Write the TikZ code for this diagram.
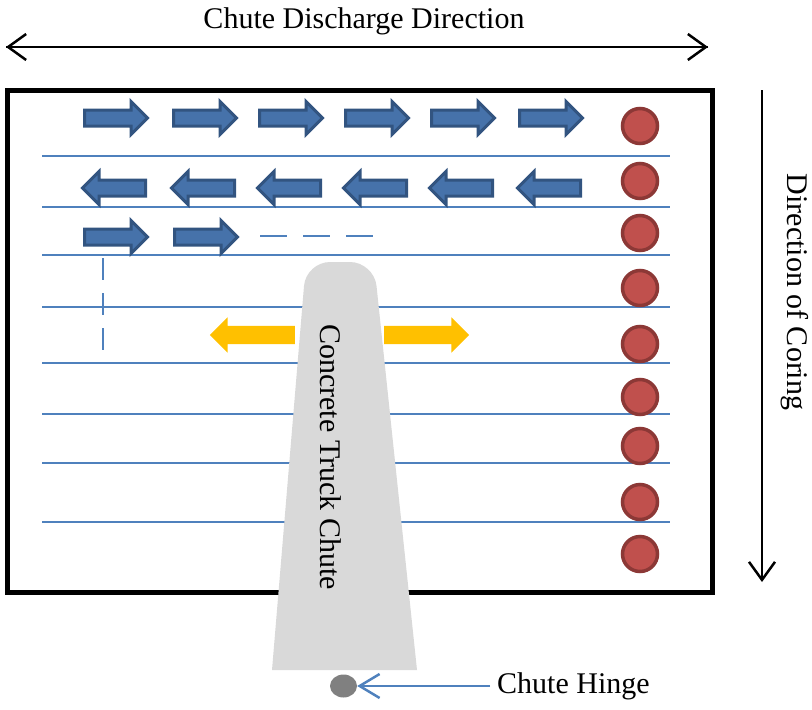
\documentclass[tikz,border=0pt]{standalone}
\usepackage{fontspec}
\setmainfont{Liberation Serif}
\usetikzlibrary{arrows.meta, shapes.arrows, shapes.geometric}
\definecolor{rowblue}{RGB}{79,129,189}
\definecolor{rowfill}{RGB}{70,114,170}
\definecolor{rowedge}{RGB}{50,84,128}
\definecolor{corered}{RGB}{192,80,77}
\definecolor{coreedge}{RGB}{140,56,54}
\definecolor{spread}{RGB}{255,192,0}
\definecolor{chutegray}{RGB}{217,217,217}
\definecolor{hingegray}{RGB}{128,128,128}

\begin{document}
\begin{tikzpicture}[x=1pt, y=-1pt,
  every node/.style={font=\fontsize{30}{36}\selectfont},
  lane/.style={rowblue, line width=2.5pt},
  flow/.style={single arrow, draw=rowedge, fill=rowfill, line width=3pt,
    minimum height=63pt, inner xsep=0pt, inner ysep=6.5pt, single arrow head extend=8.5pt},
  push/.style={single arrow, fill=spread, minimum height=85pt, inner xsep=0pt,
    inner ysep=9pt, single arrow head extend=8.5pt},
  coreball/.style={circle, draw=coreedge, fill=corered, line width=3.5pt,
    minimum size=35pt, inner sep=0pt},
  span/.style={line width=2.5pt},
  barb/.style={-{Straight Barb[length=18pt, width=26pt]}},
  pointer/.style={draw=rowblue, line width=2.5pt, -{Straight Barb[length=20pt, width=24pt]}}]
\useasboundingbox (0,0) rectangle (812,710);

\foreach \y in {156,207,255,307,363,414,463,522}
  \draw[lane] (42,\y) -- (670,\y);
\draw[lane, line width=2pt, dash pattern=on 22pt off 13pt] (103,258) -- (103,353);
\draw[lane, line width=2pt, dash pattern=on 27pt off 16pt] (260,236) -- (374,236);

\foreach \x [count=\i] in {115,204,290,376,462,550} {
  \node[flow] (east\i) at (\x-3,118) {};
  \node[flow, shape border rotate=180] (west\i) at (\x+3,188) {};
}
\node[flow] (back1) at (112,237) {};
\node[flow] (back2) at (202,237) {};

\node[push, shape border rotate=180] (pushl) at (257,335) {};
\node[push] (pushr) at (422,335) {};

\foreach \y [count=\i] in {126,181,233,288,344,397,446,502,554}
  \node[coreball] (core\i) at (640,\y) {};

\draw[line width=5pt] (7,90) rectangle (712,592);

\fill[chutegray] (272,670) [rounded corners=24pt] -- (306,262) -- (374,262)
  [sharp corners] -- (417,670) -- cycle;
\node[rotate=-90] (chutetext) at (331,457) {Concrete Truck Chute};

\node[ellipse, fill=hingegray, minimum width=27pt, minimum height=23pt, inner sep=0pt]
  (hinge) at (343.5,686) {};
\node[anchor=west, inner sep=0pt] (hingetext) at (497,686) {Chute Hinge};
\draw[pointer] ([xshift=-7pt]hingetext.west) -- (hinge);

\coordinate (dischl) at (6,47);
\coordinate (dischr) at (708,47);
\draw[span, barb] (dischl) -- (dischr);
\draw[span, barb] (dischr) -- (dischl);
\node (dischtext) at (364,21) {Chute Discharge Direction};

\coordinate (coret) at (762,90);
\coordinate (coreb) at (762,582);
\draw[span, barb] (coret) -- (coreb);
\node[rotate=-90] (coretext) at (795,292) {Direction of Coring};
\end{tikzpicture}
\end{document}
